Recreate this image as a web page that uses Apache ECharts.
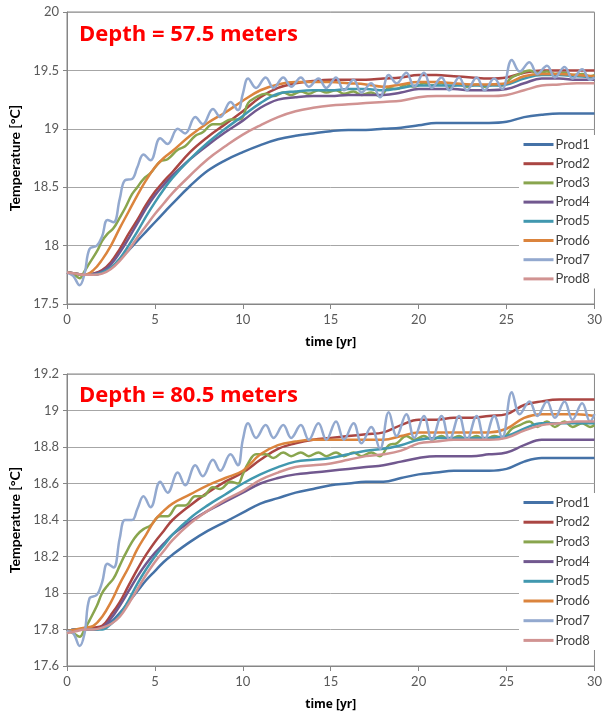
<!DOCTYPE html>
<html>
<head>
    <meta charset="utf-8">
    <title>Depth temperature</title>
    <script src="https://cdn.jsdelivr.net/npm/echarts@6/dist/echarts.min.js"></script>
    <style>
        html,body{margin:0;padding:0;background:#ffffff;}
        #chart{width:605px;height:717px;}
    </style>
</head>
<body>
<div id="chart"></div>
<script>
    // time grids (years)
    var tMain = [0,0.5,1,1.5,2,2.5,3,3.5,4,4.5,5,5.5,6,7,8,9,10,11,12,13,14,15,16,17,18,19,20,21,22,23,24,25,26,27,28,29,30];
    var tWave = [0,0.35,0.72,1,1.28,1.7,2,2.3,2.65,3,3.3,3.7,4,4.35,4.75,5.3,5.72,6.3,6.72,7.3,7.72,8.3,8.72,9.3,9.72,10,
        10.3,10.75,11.3,11.75,12.3,12.75,13.3,13.75,14.3,14.75,15.3,15.75,16.3,16.75,17.3,17.8,18.3,18.75,19.3,19.75,
        20.3,20.75,21.3,21.75,22.3,22.75,23.3,23.75,24.3,24.75,25.3,25.75,26.3,26.75,27.3,27.75,28.3,28.75,29.3,29.75,30];

    var names = ['Prod1','Prod2','Prod3','Prod4','Prod5','Prod6','Prod7','Prod8'];
    var colors = ['#4572A7','#AA4643','#89A54E','#71588F','#4198AF','#DB843D','#93A9CF','#D19392'];

    // Depth = 57.5 m
    var top1 = [17.77,17.76,17.75,17.75,17.77,17.81,17.88,17.96,18.04,18.12,18.2,18.28,18.36,18.51,18.64,18.73,18.8,18.86,18.91,18.94,18.96,18.98,18.99,18.99,19.0,19.01,19.03,19.05,19.05,19.05,19.05,19.06,19.1,19.12,19.13,19.13,19.13];
    var top2 = [17.77,17.76,17.75,17.76,17.79,17.86,17.97,18.1,18.22,18.35,18.46,18.55,18.63,18.8,18.93,19.04,19.15,19.27,19.35,19.39,19.41,19.42,19.42,19.42,19.43,19.44,19.46,19.46,19.45,19.44,19.43,19.44,19.48,19.5,19.5,19.5,19.5];
    var top3 = [17.77,17.76,17.72,17.78,17.85,17.95,18.04,18.1,18.15,18.24,18.32,18.44,18.5,18.57,18.62,18.72,18.74,18.82,18.85,18.94,18.97,19.04,19.04,19.08,19.08,19.1,
        19.22,19.27,19.3,19.28,19.31,19.29,19.32,19.3,19.33,19.31,19.33,19.3,19.32,19.29,19.31,19.28,19.35,19.34,19.38,19.36,
        19.39,19.37,19.39,19.36,19.38,19.36,19.38,19.36,19.38,19.37,19.44,19.47,19.5,19.48,19.49,19.47,19.48,19.46,19.47,19.45,19.46];
    var top4 = [17.77,17.76,17.75,17.76,17.78,17.84,17.94,18.06,18.19,18.32,18.43,18.52,18.6,18.74,18.86,18.97,19.07,19.18,19.25,19.27,19.28,19.28,19.29,19.29,19.29,19.31,19.34,19.34,19.34,19.33,19.33,19.34,19.39,19.43,19.43,19.42,19.42];
    var top5 = [17.77,17.76,17.75,17.75,17.77,17.81,17.89,18.0,18.12,18.25,18.37,18.48,18.58,18.74,18.88,19.0,19.11,19.22,19.3,19.32,19.33,19.33,19.34,19.34,19.33,19.35,19.37,19.37,19.37,19.37,19.37,19.38,19.43,19.46,19.46,19.45,19.44];
    var top6 = [17.77,17.76,17.75,17.79,17.88,18.0,18.15,18.29,18.43,18.56,18.67,18.75,18.81,18.94,19.05,19.14,19.24,19.33,19.38,19.4,19.4,19.4,19.39,19.38,19.36,19.38,19.4,19.4,19.39,19.38,19.38,19.39,19.45,19.47,19.47,19.46,19.45];
    var top7 = [17.77,17.74,17.66,17.76,17.97,18.0,18.08,18.22,18.2,18.4,18.56,18.57,18.67,18.78,18.73,18.92,18.87,19.0,18.96,19.1,19.04,19.17,19.1,19.23,19.16,19.3,
        19.43,19.35,19.44,19.35,19.44,19.36,19.44,19.36,19.43,19.35,19.44,19.33,19.42,19.31,19.39,19.27,19.46,19.39,19.48,19.36,
        19.48,19.35,19.44,19.33,19.44,19.33,19.44,19.33,19.43,19.34,19.59,19.49,19.57,19.47,19.54,19.44,19.53,19.43,19.51,19.42,19.44];
    var top8 = [17.77,17.76,17.75,17.75,17.76,17.8,17.87,17.96,18.07,18.17,18.27,18.36,18.45,18.6,18.74,18.85,18.95,19.03,19.1,19.15,19.18,19.2,19.21,19.22,19.23,19.24,19.27,19.28,19.28,19.28,19.28,19.29,19.33,19.37,19.38,19.39,19.39];

    // Depth = 80.5 m
    var bot1 = [17.79,17.8,17.8,17.8,17.81,17.84,17.89,17.95,18.01,18.07,18.12,18.17,18.21,18.28,18.34,18.39,18.44,18.49,18.52,18.55,18.57,18.59,18.6,18.61,18.61,18.63,18.65,18.66,18.67,18.67,18.67,18.68,18.72,18.74,18.74,18.74,18.74];
    var bot2 = [17.79,17.8,17.8,17.81,17.82,17.88,17.95,18.04,18.13,18.21,18.28,18.34,18.4,18.48,18.55,18.61,18.66,18.73,18.79,18.82,18.84,18.85,18.86,18.87,18.88,18.92,18.95,18.95,18.96,18.96,18.97,18.98,19.03,19.05,19.06,19.06,19.06];
    var bot3 = [17.79,17.78,17.76,17.8,17.85,17.93,18.0,18.04,18.08,18.15,18.21,18.28,18.32,18.35,18.37,18.42,18.42,18.48,18.48,18.53,18.53,18.58,18.57,18.61,18.6,18.65,
        18.71,18.76,18.76,18.74,18.77,18.75,18.77,18.75,18.77,18.75,18.77,18.75,18.77,18.75,18.77,18.75,18.81,18.82,18.86,18.84,
        18.86,18.84,18.86,18.84,18.86,18.84,18.86,18.84,18.86,18.85,18.9,18.92,18.94,18.91,18.94,18.91,18.94,18.91,18.93,18.91,18.92];
    var bot4 = [17.79,17.8,17.8,17.8,17.81,17.86,17.93,18.01,18.09,18.16,18.22,18.27,18.32,18.39,18.45,18.5,18.55,18.6,18.63,18.65,18.66,18.67,18.68,18.69,18.7,18.72,18.74,18.75,18.75,18.75,18.76,18.77,18.81,18.84,18.84,18.84,18.84];
    var bot5 = [17.79,17.8,17.8,17.8,17.8,17.83,17.88,17.96,18.05,18.13,18.2,18.26,18.32,18.41,18.48,18.54,18.6,18.65,18.69,18.72,18.73,18.74,18.76,18.78,18.79,18.81,18.84,18.85,18.85,18.85,18.85,18.86,18.9,18.93,18.93,18.93,18.93];
    var bot6 = [17.79,17.8,17.81,17.82,17.87,17.95,18.05,18.14,18.24,18.32,18.4,18.45,18.49,18.54,18.59,18.63,18.67,18.76,18.81,18.83,18.84,18.84,18.84,18.84,18.84,18.86,18.88,18.88,18.88,18.88,18.88,18.9,18.96,18.98,18.98,18.98,18.97];
    var bot7 = [17.79,17.78,17.71,17.78,17.97,17.99,18.06,18.16,18.14,18.3,18.4,18.4,18.46,18.53,18.47,18.61,18.55,18.66,18.59,18.7,18.64,18.73,18.67,18.76,18.7,18.84,
        18.93,18.85,18.92,18.85,18.92,18.85,18.92,18.84,18.93,18.84,18.94,18.84,18.93,18.82,18.91,18.79,18.99,18.86,18.98,18.85,
        18.97,18.84,18.97,18.84,18.97,18.84,18.97,18.84,18.97,18.85,19.1,18.98,19.05,18.97,19.05,18.96,19.05,18.95,19.04,18.94,18.98];
    var bot8 = [17.78,17.79,17.8,17.8,17.81,17.83,17.87,17.94,18.02,18.1,18.17,18.23,18.29,18.38,18.45,18.51,18.56,18.62,18.66,18.69,18.7,18.71,18.73,18.75,18.76,18.78,18.82,18.83,18.84,18.84,18.84,18.85,18.89,18.92,18.93,18.94,18.94];

    var topSets = [top1,top2,top3,top4,top5,top6,top7,top8];
    var botSets = [bot1,bot2,bot3,bot4,bot5,bot6,bot7,bot8];
    var waveIdx = [2,6]; // Prod3 and Prod7 use the finer time grid

    var FONT = '"Open Sans", Lato, sans-serif';
    var labelFont = {color:'#595959',fontSize:13,fontFamily:'Lato, "Open Sans", sans-serif'};

    function pairs(t,v){
        var out=[];
        for(var i=0;i<v.length;i++){
            out.push([t[i],v[i]]);
        }
        return out;
    }

    function makeSeries(sets,gi){
        var list=[];
        for(var i=0;i<sets.length;i++){
            var t = waveIdx.indexOf(i)>=0 ? tWave : tMain;
            list.push({
                name:names[i],
                type:'line',
                xAxisIndex:gi,
                yAxisIndex:gi,
                smooth:0.4,
                symbol:'none',
                lineStyle:{width:2.5,color:colors[i]},
                itemStyle:{color:colors[i]},
                data:pairs(t,sets[i])
            });
        }
        return list;
    }

    function xAx(gi){
        return {
            type:'value',gridIndex:gi,min:0,max:30,interval:5,
            name:'time [yr]',nameLocation:'middle',nameGap:33,
            nameTextStyle:{color:'#000',fontWeight:'bold',fontSize:12,fontFamily:FONT},
            axisLine:{show:true,lineStyle:{color:'#868686'}},
            axisTick:{show:true,length:5,lineStyle:{color:'#868686'}},
            axisLabel:Object.assign({margin:9},labelFont),
            splitLine:{show:false}
        };
    }
    function yAx(gi,min,max,step){
        return {
            type:'value',gridIndex:gi,min:min,max:max,interval:step,
            name:'Temperature [\u00B0C]',nameLocation:'middle',nameGap:45,nameRotate:90,
            nameTextStyle:{color:'#000',fontWeight:'bold',fontSize:14,fontFamily:'Lato, "Open Sans", sans-serif'},
            axisLine:{show:true,lineStyle:{color:'#868686'}},
            axisTick:{show:true,length:4,lineStyle:{color:'#868686'}},
            axisLabel:Object.assign({margin:8},labelFont),
            splitLine:{show:true,lineStyle:{color:'#A6A6A6'}}
        };
    }
    function legendAt(top,gap){
        return {
            data:names,
            orient:'vertical',
            left:519,
            top:top,
            itemWidth:30,
            itemHeight:14,
            itemGap:gap,
            padding:[3,6,3,3],
            backgroundColor:'#ffffff',
            itemStyle:{opacity:0},
            lineStyle:{width:3},
            textStyle:{color:'#404040',fontSize:13,fontFamily:'Lato, "Open Sans", sans-serif',padding:[0,0,0,-3]}
        };
    }

    var myChart = echarts.init(document.getElementById('chart'),null,{renderer:'canvas'});
    var series = makeSeries(topSets,0).concat(makeSeries(botSets,1));

    var option = {
        animation:false,
        backgroundColor:'#ffffff',
        color:colors,
        title:[
            {text:'Depth = 57.5 meters',left:74,top:19,textStyle:{color:'#FF0000',fontSize:22,fontWeight:'bold',fontFamily:FONT}},
            {text:'Depth = 80.5 meters',left:74,top:380,textStyle:{color:'#FF0000',fontSize:22,fontWeight:'bold',fontFamily:FONT}}
        ],
        grid:[
            {left:67,top:12,width:531,height:292,show:true,borderColor:'#868686',borderWidth:1},
            {left:67,top:374,width:531,height:292,show:true,borderColor:'#868686',borderWidth:1}
        ],
        legend:[legendAt(135,6.2),legendAt(493,6.7)],
        xAxis:[xAx(0),xAx(1)],
        yAxis:[yAx(0,17.5,20,0.5),yAx(1,17.6,19.2,0.2)],
        series:series
    };
    myChart.setOption(option);
</script>
</body>
</html>
